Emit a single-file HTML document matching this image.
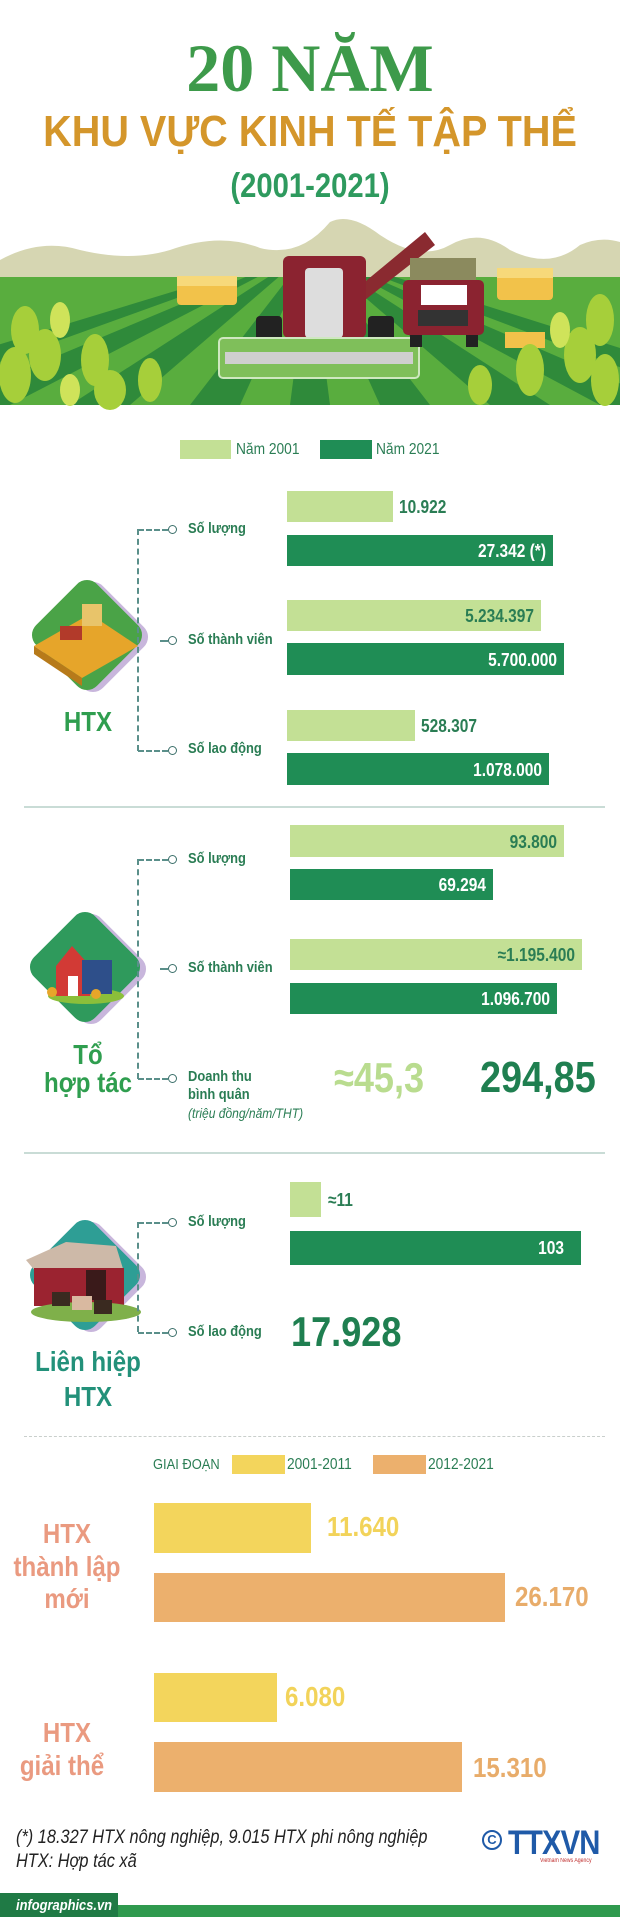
<!DOCTYPE html>
<html><head><meta charset="utf-8">
<style>
*{margin:0;padding:0;box-sizing:border-box}
body{width:620px;height:1917px;background:#fff;position:relative;overflow:hidden;font-family:"Liberation Sans",sans-serif}
.a{position:absolute;white-space:nowrap;line-height:1;transform:scaleX(.86);transform-origin:left center}
.r{transform-origin:right center}
.c{transform-origin:center center}
.b{position:absolute}
.lt{background:#c3e095}.dk{background:#1f8d55}
.lab{font-size:15px;color:#2a7d54;font-weight:bold}
.v{font-size:18px;font-weight:bold;color:#2a7d54}
.w{font-size:18px;font-weight:bold;color:#fff;text-align:right;transform-origin:right center}
.big{font-weight:bold;color:#2f9e4f;text-align:center;font-size:28px;transform-origin:center center}
.dv{position:absolute;border-left:2px dashed #5a8f8a;width:0}
.dh{position:absolute;border-top:2px dashed #5a8f8a;height:0}
.ci{position:absolute;width:9px;height:9px;border:1.5px solid #3b6f6a;border-radius:50%;background:#fff}
.yl{background:#f3d55c}.or{background:#ecb06d}
.sv{font-size:28px;font-weight:bold}
.sl{font-size:28px;font-weight:bold;color:#ea9a80;text-align:center;width:140px;transform-origin:center center}
</style></head><body>

<div class="a c" style="left:0;width:620px;text-align:center;top:34px;font-family:'Liberation Serif',serif;font-weight:bold;font-size:68px;color:#3d9a4a;transform:none">20 NĂM</div>
<div class="a c" style="left:0;width:620px;text-align:center;top:110px;font-size:44px;font-weight:bold;color:#d4962b;transform:scaleX(.9)">KHU VỰC KINH TẾ TẬP THỂ</div>
<div class="a c" style="left:0;width:620px;text-align:center;top:169px;font-size:34px;font-weight:bold;color:#2e9a5e">(2001-2021)</div>

<svg class="b" style="left:0;top:215px" width="620" height="195" viewBox="0 215 620 195">
<defs><clipPath id="fc"><rect x="0" y="277" width="620" height="128"/></clipPath></defs>
<path d="M0 260 Q40 238 80 250 Q130 262 170 250 Q220 232 260 248 Q300 258 330 222 Q350 212 380 235 Q420 262 450 245 Q480 228 510 250 Q550 270 580 245 Q600 236 620 242 L620 300 L0 300Z" fill="#d6d6b2"/>
<rect x="0" y="277" width="620" height="128" fill="#59ad3e"/>
<g clip-path="url(#fc)" fill="#2f8a3a">
<polygon points="310,250 -200,405 -120,405"/><polygon points="310,250 -60,405 10,405"/><polygon points="310,250 70,405 130,405"/><polygon points="310,250 190,405 240,405"/><polygon points="310,250 290,405 330,405"/><polygon points="310,250 380,405 430,405"/><polygon points="310,250 490,405 550,405"/><polygon points="310,250 600,405 670,405"/><polygon points="310,250 720,405 800,405"/>
</g>
<rect x="177" y="276" width="60" height="29" rx="4" fill="#f2c24a"/><rect x="177" y="276" width="60" height="10" fill="#f7d97a"/>
<rect x="497" y="268" width="56" height="32" rx="4" fill="#f2c24a"/><rect x="497" y="268" width="56" height="10" fill="#f7d97a"/>
<rect x="505" y="332" width="40" height="16" fill="#f2c24a"/>
<path d="M355 290 L425 232 L435 245 L365 300Z" fill="#8a2a30"/>
<rect x="283" y="256" width="83" height="82" rx="6" fill="#8b2330"/>
<rect x="305" y="268" width="38" height="70" rx="4" fill="#ddd"/>
<rect x="256" y="316" width="26" height="28" rx="4" fill="#222"/><rect x="368" y="316" width="26" height="28" rx="4" fill="#222"/>
<rect x="219" y="338" width="200" height="40" rx="4" fill="#7fbf5a" stroke="#cfe8c0" stroke-width="2"/>
<rect x="225" y="352" width="188" height="12" fill="#cfcfcf"/>
<rect x="410" y="258" width="66" height="30" fill="#8b8a5e"/>
<rect x="403" y="280" width="81" height="55" rx="5" fill="#8b2330"/>
<rect x="421" y="285" width="46" height="20" fill="#fff"/>
<rect x="418" y="310" width="50" height="16" fill="#333"/>
<rect x="410" y="335" width="12" height="12" fill="#222"/><rect x="466" y="335" width="12" height="12" fill="#222"/>
<g fill="#a6cf3a">
<ellipse cx="25" cy="330" rx="14" ry="24"/><ellipse cx="45" cy="355" rx="16" ry="26"/><ellipse cx="15" cy="375" rx="16" ry="28"/><ellipse cx="95" cy="360" rx="14" ry="26"/><ellipse cx="110" cy="390" rx="16" ry="20"/><ellipse cx="150" cy="380" rx="12" ry="22"/>
<ellipse cx="600" cy="320" rx="14" ry="26"/><ellipse cx="580" cy="355" rx="16" ry="28"/><ellipse cx="605" cy="380" rx="14" ry="26"/><ellipse cx="530" cy="370" rx="14" ry="26"/><ellipse cx="480" cy="385" rx="12" ry="20"/>
</g>
<g fill="#cfe35a"><ellipse cx="60" cy="320" rx="10" ry="18"/><ellipse cx="560" cy="330" rx="10" ry="18"/><ellipse cx="70" cy="390" rx="10" ry="16"/></g>
</svg>

<!-- legend 1 -->
<div class="b lt" style="left:180px;top:440px;width:51px;height:19px"></div>
<div class="a" style="left:236px;top:442px;font-size:16px;color:#2a7d54">Năm 2001</div>
<div class="b dk" style="left:320px;top:440px;width:52px;height:19px"></div>
<div class="a" style="left:376px;top:442px;font-size:16px;color:#2a7d54">Năm 2021</div>

<!-- HTX -->
<svg class="b" style="left:20px;top:574px" width="140" height="130"><rect x="30" y="20" width="86" height="86" rx="14" transform="rotate(45 73 63)" fill="#c8b6dc"/><rect x="24" y="18" width="86" height="86" rx="14" transform="rotate(45 67 61)" fill="#4aa347"/><polygon points="14,72 70,40 118,72 62,104" fill="#e6a52a"/><polygon points="14,72 62,104 62,112 14,80" fill="#b77a1a"/><rect x="40" y="52" width="22" height="14" fill="#b23a2a"/><rect x="62" y="30" width="20" height="22" fill="#e8c46a"/></svg>
<div class="a big" style="left:40px;width:96px;top:708px">HTX</div>
<div class="dv" style="left:137px;top:529px;height:222px"></div>
<div class="dh" style="left:138px;top:529px;width:30px"></div><div class="ci" style="left:168px;top:525px"></div>
<div class="dh" style="left:160px;top:640px;width:8px"></div><div class="ci" style="left:168px;top:636px"></div>
<div class="dh" style="left:138px;top:750px;width:30px"></div><div class="ci" style="left:168px;top:746px"></div>
<div class="a lab" style="left:188px;top:521px">Số lượng</div>
<div class="a lab" style="left:188px;top:632px">Số thành viên</div>
<div class="a lab" style="left:188px;top:741px">Số lao động</div>

<div class="b lt" style="left:287px;top:491px;width:106px;height:31px"></div>
<div class="a v" style="left:399px;top:498px">10.922</div>
<div class="b dk" style="left:287px;top:535px;width:266px;height:31px"></div>
<div class="a w" style="left:287px;width:259px;top:542px">27.342 (*)</div>
<div class="b lt" style="left:287px;top:600px;width:254px;height:31px"></div>
<div class="a v r" style="left:287px;width:247px;text-align:right;top:607px">5.234.397</div>
<div class="b dk" style="left:287px;top:643px;width:277px;height:32px"></div>
<div class="a w" style="left:287px;width:270px;top:651px">5.700.000</div>
<div class="b lt" style="left:287px;top:710px;width:128px;height:31px"></div>
<div class="a v" style="left:421px;top:717px">528.307</div>
<div class="b dk" style="left:287px;top:753px;width:262px;height:32px"></div>
<div class="a w" style="left:287px;width:255px;top:761px">1.078.000</div>

<div class="b" style="left:24px;top:806px;width:581px;height:2px;background:#c9dcd6"></div>

<!-- To hop tac -->
<svg class="b" style="left:16px;top:904px" width="145" height="130"><rect x="32" y="22" width="86" height="86" rx="14" transform="rotate(45 75 65)" fill="#c8b6dc"/><rect x="26" y="20" width="86" height="86" rx="14" transform="rotate(45 69 63)" fill="#2f9a5c"/><ellipse cx="70" cy="92" rx="38" ry="8" fill="#8bbf3a"/><polygon points="40,62 56,42 74,62 74,92 40,92" fill="#d23a35"/><rect x="66" y="56" width="30" height="34" fill="#2e4f8a"/><rect x="52" y="72" width="10" height="20" fill="#fff"/><circle cx="36" cy="88" r="5" fill="#e7a62a"/><circle cx="80" cy="90" r="5" fill="#e7a62a"/></svg>
<div class="a big" style="left:30px;width:116px;top:1041px">Tổ</div>
<div class="a big" style="left:25px;width:126px;top:1069px">hợp tác</div>
<div class="dv" style="left:137px;top:859px;height:220px"></div>
<div class="dh" style="left:138px;top:859px;width:30px"></div><div class="ci" style="left:168px;top:855px"></div>
<div class="dh" style="left:160px;top:968px;width:8px"></div><div class="ci" style="left:168px;top:964px"></div>
<div class="dh" style="left:138px;top:1078px;width:30px"></div><div class="ci" style="left:168px;top:1074px"></div>
<div class="a lab" style="left:188px;top:851px">Số lượng</div>
<div class="a lab" style="left:188px;top:960px">Số thành viên</div>
<div class="a" style="left:188px;top:1069px;font-size:15px;color:#2a7d54;font-weight:bold">Doanh thu</div>
<div class="a" style="left:188px;top:1087px;font-size:15px;color:#2a7d54;font-weight:bold">bình quân</div>
<div class="a" style="left:188px;top:1106px;font-size:14px;color:#2a7d54;font-style:italic">(triệu đồng/năm/THT)</div>

<div class="b lt" style="left:290px;top:825px;width:274px;height:32px"></div>
<div class="a v r" style="left:290px;width:267px;text-align:right;top:833px">93.800</div>
<div class="b dk" style="left:290px;top:869px;width:203px;height:31px"></div>
<div class="a w" style="left:290px;width:196px;top:876px">69.294</div>
<div class="b lt" style="left:290px;top:939px;width:292px;height:31px"></div>
<div class="a v r" style="left:290px;width:285px;text-align:right;top:946px">≈1.195.400</div>
<div class="b dk" style="left:290px;top:983px;width:267px;height:31px"></div>
<div class="a w" style="left:290px;width:260px;top:990px">1.096.700</div>
<div class="a" style="left:334px;top:1057px;font-size:42px;font-weight:bold;color:#b9dc8f">≈45,3</div>
<div class="a" style="left:480px;top:1056px;font-size:44px;font-weight:bold;color:#1f7f50">294,85</div>

<div class="b" style="left:24px;top:1152px;width:581px;height:2px;background:#c9dcd6"></div>

<!-- Lien hiep -->
<svg class="b" style="left:16px;top:1212px" width="145" height="132"><rect x="32" y="22" width="86" height="86" rx="14" transform="rotate(45 75 65)" fill="#c8b6dc"/><rect x="26" y="20" width="86" height="86" rx="14" transform="rotate(45 69 63)" fill="#2e9e95"/><polygon points="10,48 50,30 100,34 108,60 20,60" fill="#cdb9a8"/><rect x="18" y="56" width="90" height="38" fill="#9b2330"/><rect x="70" y="58" width="20" height="30" fill="#3a1a1a"/><ellipse cx="70" cy="100" rx="55" ry="10" fill="#7fb04a"/><rect x="36" y="80" width="18" height="14" fill="#3a2a20"/><rect x="56" y="84" width="20" height="14" fill="#d9b9a0"/><rect x="78" y="88" width="18" height="14" fill="#3a2a20"/></svg>
<div class="a c" style="left:20px;width:136px;text-align:center;top:1348px;font-size:28px;font-weight:bold;color:#23917a">Liên hiệp</div>
<div class="a c" style="left:20px;width:136px;text-align:center;top:1383px;font-size:28px;font-weight:bold;color:#23917a">HTX</div>
<div class="dv" style="left:137px;top:1222px;height:110px"></div>
<div class="dh" style="left:138px;top:1222px;width:30px"></div><div class="ci" style="left:168px;top:1218px"></div>
<div class="dh" style="left:138px;top:1332px;width:30px"></div><div class="ci" style="left:168px;top:1328px"></div>
<div class="a lab" style="left:188px;top:1214px">Số lượng</div>
<div class="a lab" style="left:188px;top:1324px">Số lao động</div>
<div class="b lt" style="left:290px;top:1182px;width:31px;height:35px"></div>
<div class="a v" style="left:328px;top:1191px">≈11</div>
<div class="b dk" style="left:290px;top:1231px;width:291px;height:34px"></div>
<div class="a w" style="left:290px;width:274px;top:1239px">103</div>
<div class="a" style="left:291px;top:1311px;font-size:42px;font-weight:bold;color:#1f7f50">17.928</div>

<div class="b" style="left:24px;top:1436px;width:581px;border-top:1px dashed #c9cfcc"></div>

<!-- Giai doan -->
<div class="a" style="left:153px;top:1457px;font-size:15px;color:#2a7d54">GIAI ĐOẠN</div>
<div class="b yl" style="left:232px;top:1455px;width:53px;height:19px"></div>
<div class="a" style="left:287px;top:1457px;font-size:16px;color:#2a7d54">2001-2011</div>
<div class="b or" style="left:373px;top:1455px;width:53px;height:19px"></div>
<div class="a" style="left:428px;top:1457px;font-size:16px;color:#2a7d54">2012-2021</div>

<div class="a sl" style="left:-3px;top:1520px">HTX</div>
<div class="a sl" style="left:-3px;top:1553px">thành lập</div>
<div class="a sl" style="left:-3px;top:1585px">mới</div>
<div class="a sl" style="left:-3px;top:1719px">HTX</div>
<div class="a sl" style="left:-8px;top:1752px">giải thể</div>

<div class="b yl" style="left:154px;top:1503px;width:157px;height:50px"></div>
<div class="a sv" style="left:327px;top:1513px;color:#f2d35a">11.640</div>
<div class="b or" style="left:154px;top:1573px;width:351px;height:49px"></div>
<div class="a sv" style="left:515px;top:1583px;color:#e8ac6a">26.170</div>
<div class="b yl" style="left:154px;top:1673px;width:123px;height:49px"></div>
<div class="a sv" style="left:285px;top:1683px;color:#f2d35a">6.080</div>
<div class="b or" style="left:154px;top:1742px;width:308px;height:50px"></div>
<div class="a sv" style="left:473px;top:1754px;color:#e8ac6a">15.310</div>

<div class="a" style="left:16px;top:1828px;font-size:19px;font-style:italic;color:#222">(*) 18.327 HTX nông nghiệp, 9.015 HTX phi nông nghiệp</div>
<div class="a" style="left:16px;top:1852px;font-size:19px;font-style:italic;color:#222">HTX: Hợp tác xã</div>
<div class="b" style="left:482px;top:1830px;width:20px;height:20px;border:2px solid #1f5aa8;border-radius:50%;font-size:13px;color:#1f5aa8;text-align:center;line-height:16px;font-weight:bold">C</div>
<div class="a" style="left:508px;top:1826px;font-size:34px;font-weight:bold;color:#1f5aa8;letter-spacing:-1px">TTXVN</div>
<div class="a" style="left:540px;top:1858px;font-size:6px;color:#c03030">Vietnam News Agency</div>

<div class="b" style="left:0;top:1905px;width:620px;height:12px;background:#2f9a4e"></div>
<div class="b" style="left:0;top:1893px;width:118px;height:24px;background:#1f7a45"></div>
<div class="a" style="left:16px;top:1898px;font-size:15px;font-style:italic;color:#fff;font-weight:bold">infographics.vn</div>
</body></html>
